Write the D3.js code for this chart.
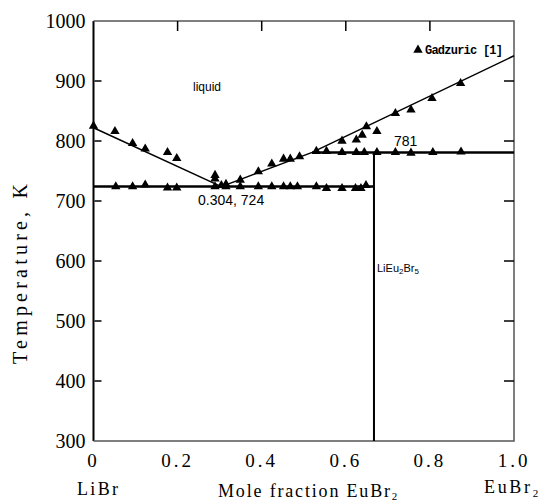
<!DOCTYPE html>
<html>
<head>
<meta charset="utf-8">
<script src="https://cdn.jsdelivr.net/npm/d3@7"></script>
<style>
  body { margin: 0; background: #fff; }
</style>
</head>
<body>
<div id="chart"></div>
<script>
// Lines of the phase diagram (mole fraction EuBr2, temperature K)
const liquidusLeft = [[0, 822], [0.304, 724]];
const liquidusRight = [[0.304, 724], [0.52, 781], [1.0, 942]];
const eutecticLine = [[0, 724], [0.667, 724]];
const peritecticLine = [[0.52, 781], [1.0, 781]];
const compoundLine = [[0.667, 781], [0.667, 300]];

// Gadzuric [1] measured points
const pointsLiquidusLeft = [[0, 825], [0.051, 816], [0.093, 796], [0.123, 787], [0.176, 781],
    [0.198, 771], [0.289, 743], [0.289, 737]];
const pointsLiquidusRight = [[0.315, 728], [0.349, 735], [0.392, 749], [0.424, 762], [0.452, 770],
    [0.468, 770], [0.49, 774], [0.53, 783], [0.554, 783], [0.591, 800], [0.625, 802], [0.639, 810],
    [0.649, 824], [0.674, 816], [0.718, 846], [0.755, 852], [0.805, 871], [0.873, 896]];
const pointsEutectic = [[0.053, 724], [0.093, 724], [0.123, 727], [0.176, 722], [0.198, 722],
    [0.289, 724], [0.304, 726], [0.315, 724], [0.349, 724], [0.392, 724], [0.424, 724], [0.452, 724],
    [0.468, 724], [0.485, 724], [0.53, 724], [0.554, 721], [0.591, 721], [0.623, 721], [0.636, 721],
    [0.648, 726]];
const pointsPeritectic = [[0.591, 781], [0.625, 781], [0.644, 781], [0.674, 781], [0.718, 781],
    [0.755, 780], [0.807, 781], [0.874, 782]];

const xTicks = [0, 0.2, 0.4, 0.6, 0.8, 1.0];
const xTickLabels = ["0", "0.2", "0.4", "0.6", "0.8", "1.0"];
const yTicks = [300, 400, 500, 600, 700, 800, 900, 1000];

const width = 558, height = 503;
const margin = { top: 21, right: 44, bottom: 62, left: 93.5 };

const svg = d3.select("#chart")
    .append("svg")
    .attr("width", width)
    .attr("height", height);

const x = d3.scaleLinear().domain([0, 1]).range([margin.left, width - margin.right]);
const y = d3.scaleLinear().domain([300, 1000]).range([height - margin.bottom, margin.top]);

// Frame: left axis heavier, the rest grey
svg.append("line")
    .attr("x1", x(0)).attr("x2", x(0)).attr("y1", y(300)).attr("y2", y(1000))
    .attr("stroke", "#000").attr("stroke-width", 2);
svg.append("path")
    .attr("d", `M${x(0)},${y(1000)}H${x(1)}V${y(300)}H${x(0)}`)
    .attr("fill", "none").attr("stroke", "#555").attr("stroke-width", 1.5);

// Inward ticks
const innerY = yTicks.slice(1, -1);
svg.selectAll(".ltick").data(innerY).enter().append("line")
    .attr("x1", x(0) + 1).attr("x2", x(0) + 8)
    .attr("y1", d => y(d)).attr("y2", d => y(d))
    .attr("stroke", "#000").attr("stroke-width", 1.5);
svg.selectAll(".rtick").data(innerY).enter().append("line")
    .attr("x1", x(1) - 10).attr("x2", x(1))
    .attr("y1", d => y(d)).attr("y2", d => y(d))
    .attr("stroke", "#000").attr("stroke-width", 1.5);
svg.selectAll(".ttick").data(xTicks.slice(1, -1)).enter().append("line")
    .attr("x1", d => x(d)).attr("x2", d => x(d))
    .attr("y1", y(1000)).attr("y2", y(1000) + 10)
    .attr("stroke", "#000").attr("stroke-width", 1.5);

// Tick labels
svg.selectAll(".ylab").data(yTicks).enter().append("text")
    .attr("x", x(0) - 8)
    .attr("y", d => y(d) + 7)
    .attr("text-anchor", "end")
    .attr("font-family", "Liberation Serif, serif")
    .attr("font-size", 20)
    .text(d => d);

svg.selectAll(".xlab").data(xTicks).enter().append("text")
    .attr("x", d => x(d))
    .attr("y", y(300) + 26)
    .attr("text-anchor", "middle")
    .attr("font-family", "Liberation Serif, serif")
    .attr("font-size", 19)
    .attr("letter-spacing", 3)
    .text((d, i) => xTickLabels[i]);

// Axis titles
svg.append("text")
    .attr("transform", "translate(27,274) rotate(-90)")
    .attr("text-anchor", "middle")
    .attr("font-family", "Liberation Serif, serif")
    .attr("font-size", 20)
    .attr("textLength", 180)
    .attr("lengthAdjust", "spacing")
    .text("Temperature, K");

svg.append("text")
    .attr("x", 77).attr("y", 495)
    .attr("font-family", "Liberation Serif, serif")
    .attr("font-size", 18)
    .attr("textLength", 41)
    .text("LiBr");

const mf = svg.append("text")
    .attr("x", 218).attr("y", 497)
    .attr("font-family", "Liberation Serif, serif")
    .attr("font-size", 18);
mf.append("tspan").attr("textLength", 172).attr("lengthAdjust", "spacing").text("Mole fraction EuBr");
mf.append("tspan").attr("font-size", 11).attr("dy", 3).text("2");

const eb = svg.append("text")
    .attr("x", 484).attr("y", 493)
    .attr("font-family", "Liberation Serif, serif")
    .attr("font-size", 18);
eb.append("tspan").attr("textLength", 46).attr("lengthAdjust", "spacing").text("EuBr");
eb.append("tspan").attr("font-size", 11).attr("dy", 4).text("2");

// Phase diagram lines
const line = d3.line().x(d => x(d[0])).y(d => y(d[1]));
svg.append("path").datum(liquidusLeft).attr("d", line)
    .attr("fill", "none").attr("stroke", "#000").attr("stroke-width", 1.5);
svg.append("path").datum(liquidusRight).attr("d", line)
    .attr("fill", "none").attr("stroke", "#000").attr("stroke-width", 1.5);
svg.append("path").datum(eutecticLine).attr("d", line)
    .attr("fill", "none").attr("stroke", "#000").attr("stroke-width", 2.5);
svg.append("path").datum(peritecticLine).attr("d", line)
    .attr("fill", "none").attr("stroke", "#000").attr("stroke-width", 2.5);
svg.append("path").datum(compoundLine).attr("d", line)
    .attr("fill", "none").attr("stroke", "#000").attr("stroke-width", 2);

// Points
const tri = d3.symbol().type(d3.symbolTriangle).size(38);
const allPoints = [].concat(pointsLiquidusLeft, pointsLiquidusRight, pointsEutectic, pointsPeritectic);
svg.selectAll(".pt").data(allPoints).enter().append("path")
    .attr("d", tri)
    .attr("transform", d => `translate(${x(d[0])},${y(d[1])})`)
    .attr("fill", "#000");

// Legend
svg.append("path").attr("d", tri)
    .attr("transform", "translate(418,50)")
    .attr("fill", "#000");
svg.append("text")
    .attr("x", 425).attr("y", 54)
    .attr("font-family", "Liberation Mono, monospace")
    .attr("font-size", 12)
    .attr("font-weight", "bold")
    .attr("textLength", 78)
    .text("Gadzuric [1]");

// Annotations
const sans = "Liberation Sans, Arial, sans-serif";
svg.append("text").attr("x", 193).attr("y", 91)
    .attr("font-family", sans).attr("font-size", 12).text("liquid");
svg.append("text").attr("x", 198).attr("y", 205)
    .attr("font-family", sans).attr("font-size", 14).text("0.304, 724");
svg.append("text").attr("x", 394).attr("y", 146)
    .attr("font-family", sans).attr("font-size", 14).text("781");
const cmp = svg.append("text").attr("x", 377).attr("y", 272)
    .attr("font-family", sans).attr("font-size", 11);
cmp.append("tspan").text("LiEu");
cmp.append("tspan").attr("font-size", 8).attr("dy", 2).text("2");
cmp.append("tspan").attr("dy", -2).text("Br");
cmp.append("tspan").attr("font-size", 8).attr("dy", 2).text("5");
</script>
</body>
</html>
